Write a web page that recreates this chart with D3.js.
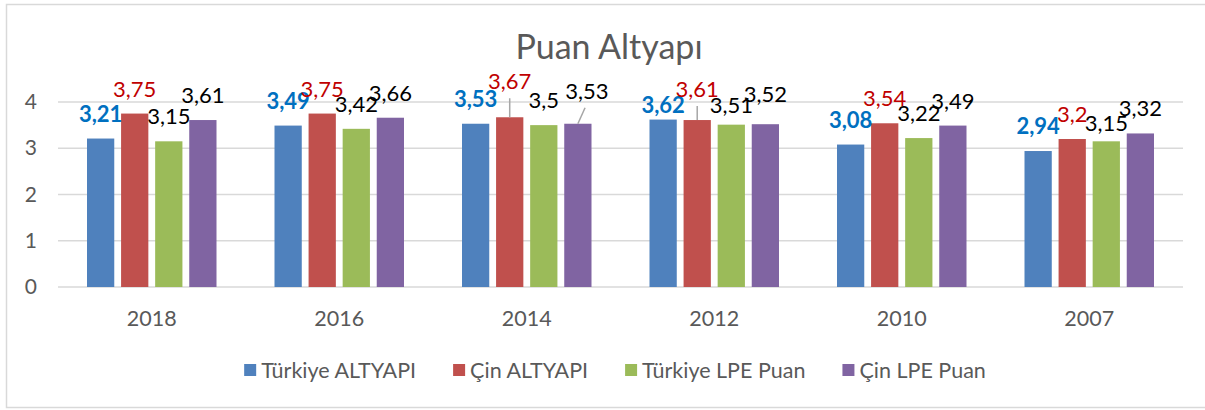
<!DOCTYPE html>
<html>
<head>
<meta charset="utf-8">
<script src="https://cdn.jsdelivr.net/npm/d3@7.9.0/dist/d3.min.js"></script>
<style>
  body { margin: 0; background: #fff; }
  svg { display: block; font-family: Lato, "Open Sans", sans-serif; }
</style>
</head>
<body>
<svg id="chart" width="1205" height="410"></svg>
<script>
// chart data
const years = ['2018', '2016', '2014', '2012', '2010', '2007'];
const seriesNames = ['Türkiye ALTYAPI', 'Çin ALTYAPI', 'Türkiye LPE Puan', 'Çin LPE Puan'];
const turkiyeAltyapi = [3.21, 3.49, 3.53, 3.62, 3.08, 2.94];
const cinAltyapi = [3.75, 3.75, 3.67, 3.61, 3.54, 3.2];
const turkiyeLpe = [3.15, 3.42, 3.5, 3.51, 3.22, 3.15];
const cinLpe = [3.61, 3.66, 3.53, 3.52, 3.49, 3.32];
const yTicks = [0, 1, 2, 3, 4];

const seriesValues = [turkiyeAltyapi, cinAltyapi, turkiyeLpe, cinLpe];
const barColors = ['#4F81BD', '#C0504D', '#9BBB59', '#8064A2'];
const labelColors = ['#0070C0', '#C00000', '#000', '#000'];

// labels that were dragged by hand in the original (series, year) -> [dx, dy, leader]
const nudges = {
  '1-2014': [0, -11, true],
  '3-2014': [9, -8, true],
  '0-2012': [0, 10, false],
  '1-2012': [0, -6, true],
  '2-2012': [0, 5, false],
  '3-2012': [0, -5, false],
  '2-2007': [0, 7, false]
};

const svg = d3.select('#chart');
const grey = '#595959';

// outer chart border
svg.append('rect')
  .attr('x', 6.5).attr('y', 4.5)
  .attr('width', 1205).attr('height', 403)
  .attr('fill', 'none').attr('stroke', '#d9d9d9').attr('stroke-width', 1.5);

const x0 = d3.scaleBand().domain(years).range([58, 1183]);
const x1 = d3.scaleBand().domain(d3.range(4)).range([29, 187.5 - 29]).paddingInner(0.2);
const y = d3.scaleLinear().domain([0, 4]).range([287, 102]);

// gridlines
svg.append('g')
  .selectAll('line')
  .data(yTicks)
  .join('line')
  .attr('x1', 58).attr('x2', 1183)
  .attr('y1', d => y(d)).attr('y2', d => y(d))
  .attr('stroke', '#d9d9d9').attr('stroke-width', 1.5);

// y axis labels
svg.append('g')
  .selectAll('text')
  .data(yTicks)
  .join('text')
  .attr('x', 37).attr('y', d => y(d) + 7)
  .attr('text-anchor', 'end')
  .attr('font-size', 21).attr('fill', grey)
  .text(d => d);

// x axis labels
svg.append('g')
  .selectAll('text')
  .data(years)
  .join('text')
  .attr('x', d => x0(d) + x0.bandwidth() / 2)
  .attr('y', 326)
  .attr('text-anchor', 'middle')
  .attr('font-size', 21.5).attr('fill', grey)
  .text(d => d);

// bars
const cells = [];
seriesValues.forEach((vals, s) => {
  vals.forEach((v, i) => cells.push({ s, year: years[i], v }));
});

svg.append('g')
  .selectAll('rect')
  .data(cells)
  .join('rect')
  .attr('x', d => x0(d.year) + x1(d.s))
  .attr('y', d => y(d.v))
  .attr('width', x1.bandwidth())
  .attr('height', d => y(0) - y(d.v))
  .attr('fill', d => barColors[d.s]);

// data labels + leader lines
const labelG = svg.append('g');
cells.forEach(d => {
  const cx = x0(d.year) + x1(d.s) + x1.bandwidth() / 2;
  const top = y(d.v);
  const [dx, dy, leader] = nudges[d.s + '-' + d.year] || [0, 0, false];
  const lx = cx + dx;
  const ly = top - 17 + dy;
  if (leader) {
    labelG.append('line')
      .attr('x1', lx - dx * 0.2).attr('y1', ly + 9)
      .attr('x2', cx).attr('y2', top)
      .attr('stroke', '#a6a6a6').attr('stroke-width', 1.5);
  }
  labelG.append('text')
    .attr('x', lx).attr('y', ly)
    .attr('text-anchor', 'middle')
    .attr('font-size', 22)
    .attr('font-weight', d.s === 0 ? 'bold' : 'normal')
    .attr('fill', labelColors[d.s])
    .text(String(d.v).replace('.', ','));
});

// title
svg.append('text')
  .attr('x', 609).attr('y', 59)
  .attr('text-anchor', 'middle')
  .attr('font-size', 34).attr('fill', grey)
  .text('Puan Altyapı');

// legend
const legend = svg.append('g');
let lxPos = 0;
seriesNames.forEach((name, i) => {
  const item = legend.append('g').attr('transform', `translate(${lxPos},0)`);
  item.append('rect')
    .attr('x', 0).attr('y', 364)
    .attr('width', 12).attr('height', 12)
    .attr('fill', barColors[i]);
  const t = item.append('text')
    .attr('x', 17).attr('y', 378)
    .attr('font-size', 21.5).attr('fill', grey)
    .text(name);
  lxPos += 17 + t.node().getComputedTextLength() + 37;
});
const legendW = lxPos - 37;
legend.attr('transform', `translate(${615 - legendW / 2},0)`);
</script>
</body>
</html>
